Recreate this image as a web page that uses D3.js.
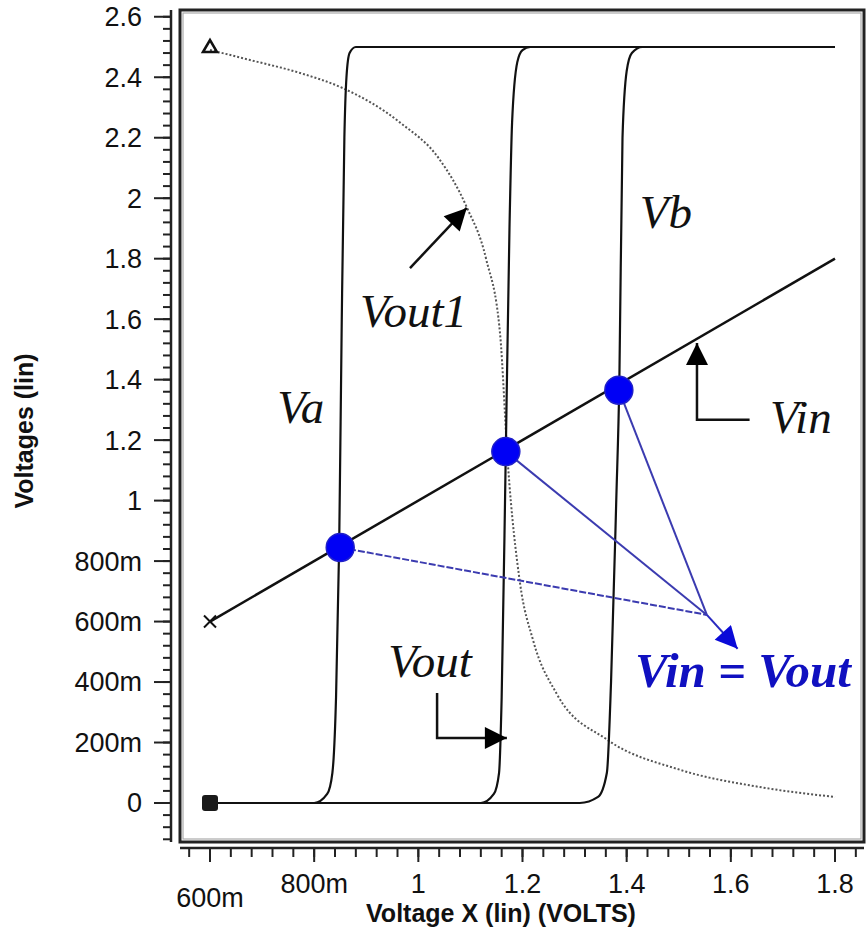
<!DOCTYPE html>
<html>
<head>
<meta charset="utf-8">
<script src="https://cdn.jsdelivr.net/npm/d3@7"></script>
<style>
  body { margin: 0; background: #fff; }
  .tick-label { font-family: "Liberation Sans", Arial, sans-serif; font-size: 27px; fill: #111; }
  .axis-title { font-family: "Liberation Sans", Arial, sans-serif; font-size: 25px; font-weight: bold; fill: #111; }
  .note { font-family: "Liberation Serif", "Times New Roman", serif; font-style: italic; font-size: 47px; fill: #111; }
  .note-blue { font-family: "Liberation Serif", "Times New Roman", serif; font-style: italic; font-weight: bold; font-size: 49px; fill: #1010c0; }
</style>
</head>
<body>
<div id="chart"></div>
<script>
// ---- data (volts) ----
var vinX = [0.6, 1.8];
var vinY = [0.6, 1.8];

var vaX = [0.6, 0.80, 0.825, 0.835, 0.842, 0.848, 0.853, 0.858, 0.862, 0.868, 0.88, 1.8];
var vaY = [0, 0, 0.03, 0.1, 0.35, 0.85, 1.6, 2.2, 2.4, 2.48, 2.5, 2.5];

var voutX = [0.6, 1.12, 1.145, 1.155, 1.16, 1.168, 1.175, 1.18, 1.19, 1.2, 1.215, 1.8];
var voutY = [0, 0, 0.03, 0.1, 0.35, 1.17, 1.9, 2.25, 2.45, 2.49, 2.5, 2.5];

var vbX = [0.6, 1.31, 1.345, 1.362, 1.37, 1.38, 1.386, 1.392, 1.4, 1.41, 1.43, 1.8];
var vbY = [0, 0, 0.02, 0.1, 0.4, 1.0, 1.4, 2.2, 2.42, 2.48, 2.5, 2.5];

var vout1X = [0.6, 0.677, 0.773, 0.855, 0.965, 1.04, 1.093, 1.13, 1.157, 1.172, 1.195, 1.22, 1.266, 1.362, 1.502, 1.655, 1.8];
var vout1Y = [2.49, 2.457, 2.414, 2.364, 2.25, 2.13, 1.97, 1.80, 1.55, 1.12, 0.73, 0.54, 0.36, 0.21, 0.11, 0.053, 0.02];

// crossing points Vin = Vout
var crossX = [0.85, 1.168, 1.385];
var crossY = [0.845, 1.162, 1.365];
var meetX = 1.554, meetY = 0.622;   // where the blue lines meet
var tipX = 1.613, tipY = 0.51;      // blue arrow tip

var xTicks = [0.6, 0.8, 1.0, 1.2, 1.4, 1.6, 1.8];
var xTickLabels = ["600m", "800m", "1", "1.2", "1.4", "1.6", "1.8"];
var yTicks = [0, 0.2, 0.4, 0.6, 0.8, 1.0, 1.2, 1.4, 1.6, 1.8, 2.0, 2.2, 2.4, 2.6];
var yTickLabels = ["0", "200m", "400m", "600m", "800m", "1", "1.2", "1.4", "1.6", "1.8", "2", "2.2", "2.4", "2.6"];

// annotation labels and arrows (data units)
var labels = [
    { text: "Va", x: 0.729, y: 1.257, cls: "note" },
    { text: "Vb", x: 1.425, y: 1.901, cls: "note" },
    { text: "Vout1", x: 0.888, y: 1.574, cls: "note" },
    { text: "Vin", x: 1.675, y: 1.224, cls: "note" },
    { text: "Vout", x: 0.942, y: 0.417, cls: "note" },
    { text: "Vin = Vout", x: 1.416, y: 0.384, cls: "note-blue" }
];
var arrows = [
    [[0.984, 1.769], [1.093, 1.968]],
    [[1.636, 1.267], [1.535, 1.267], [1.535, 1.521]],
    [[1.036, 0.364], [1.036, 0.215], [1.170, 0.215]]
];

// ---- layout ----
var width = 868, height = 932;
var frame = { left: 180, right: 864, top: 10, bottom: 842 };

var x = d3.scaleLinear().domain([0.6, 1.8]).range([210, 835]);
var y = d3.scaleLinear().domain([0, 2.5]).range([803, 47]);

var svg = d3.select("#chart").append("svg")
    .attr("width", width)
    .attr("height", height)
    .style("background", "#fff");

var defs = svg.append("defs");
defs.append("marker")
    .attr("id", "headBlack")
    .attr("viewBox", "0 0 10 10")
    .attr("refX", 10).attr("refY", 5)
    .attr("markerUnits", "userSpaceOnUse")
    .attr("markerWidth", 24).attr("markerHeight", 22)
    .attr("orient", "auto")
    .append("path").attr("d", "M0,0 L10,5 L0,10 Z").attr("fill", "#000");
defs.append("marker")
    .attr("id", "headBlue")
    .attr("viewBox", "0 0 10 10")
    .attr("refX", 10).attr("refY", 5)
    .attr("markerUnits", "userSpaceOnUse")
    .attr("markerWidth", 26).attr("markerHeight", 22)
    .attr("orient", "auto")
    .append("path").attr("d", "M0,0 L10,5 L0,10 Z").attr("fill", "#0a0ad8");

// frame (double line)
svg.append("rect")
    .attr("x", frame.left).attr("y", frame.top)
    .attr("width", frame.right - frame.left).attr("height", frame.bottom - frame.top)
    .attr("fill", "none").attr("stroke", "#222").attr("stroke-width", 3);
svg.append("rect")
    .attr("x", frame.left + 3).attr("y", frame.top + 3)
    .attr("width", frame.right - frame.left - 6).attr("height", frame.bottom - frame.top - 6)
    .attr("fill", "none").attr("stroke", "#aaa").attr("stroke-width", 1.2);

// y axis: line + ticks on the left of the frame
var yAxisX = 171;
var yMinor = d3.range(-0.12, 2.63, 0.04);
var yAx = svg.append("g");
yAx.append("line")
    .attr("x1", yAxisX).attr("x2", yAxisX)
    .attr("y1", frame.top).attr("y2", frame.bottom)
    .attr("stroke", "#222").attr("stroke-width", 2.5);
yAx.selectAll("line.minor").data(yMinor).enter().append("line")
    .attr("class", "minor")
    .attr("x1", yAxisX - 8).attr("x2", yAxisX)
    .attr("y1", d => y(d)).attr("y2", d => y(d))
    .attr("stroke", "#222").attr("stroke-width", 2);
yAx.selectAll("line.major").data(yTicks).enter().append("line")
    .attr("class", "major")
    .attr("x1", yAxisX - 17).attr("x2", yAxisX)
    .attr("y1", d => y(d)).attr("y2", d => y(d))
    .attr("stroke", "#222").attr("stroke-width", 2);
yAx.selectAll("text").data(yTicks).enter().append("text")
    .attr("class", "tick-label")
    .attr("x", 142)
    .attr("y", d => y(d))
    .attr("dy", "0.35em")
    .attr("text-anchor", "end")
    .text((d, i) => yTickLabels[i]);

// x axis: line + ticks below the frame
var xAxisY = 848;
var xMinor = d3.range(0.56, 1.85, 0.04);
var xAx = svg.append("g");
xAx.append("line")
    .attr("x1", frame.left).attr("x2", frame.right)
    .attr("y1", xAxisY).attr("y2", xAxisY)
    .attr("stroke", "#222").attr("stroke-width", 2.5);
xAx.selectAll("line.minor").data(xMinor).enter().append("line")
    .attr("class", "minor")
    .attr("x1", d => x(d)).attr("x2", d => x(d))
    .attr("y1", xAxisY).attr("y2", xAxisY + 9)
    .attr("stroke", "#222").attr("stroke-width", 2);
xAx.selectAll("line.major").data(xTicks).enter().append("line")
    .attr("class", "major")
    .attr("x1", d => x(d)).attr("x2", d => x(d))
    .attr("y1", xAxisY).attr("y2", xAxisY + 14)
    .attr("stroke", "#222").attr("stroke-width", 2);
xAx.selectAll("text").data(xTicks).enter().append("text")
    .attr("class", "tick-label")
    .attr("x", d => x(d))
    .attr("y", (d, i) => i == 0 ? 907 : 893)
    .attr("text-anchor", "middle")
    .text((d, i) => xTickLabels[i]);

svg.append("text")
    .attr("class", "axis-title")
    .attr("x", 501).attr("y", 922)
    .attr("text-anchor", "middle")
    .text("Voltage X (lin) (VOLTS)");
svg.append("text")
    .attr("class", "axis-title")
    .attr("transform", "translate(33,431) rotate(-90)")
    .attr("text-anchor", "middle")
    .text("Voltages (lin)");

// ---- curves ----
function pts(xs, ys) { return xs.map((v, i) => [v, ys[i]]); }
var line = d3.line().x(d => x(d[0])).y(d => y(d[1])).curve(d3.curveMonotoneX);
var straight = d3.line().x(d => x(d[0])).y(d => y(d[1]));

svg.append("path").datum(pts(vout1X, vout1Y))
    .attr("d", line).attr("fill", "none")
    .attr("stroke", "#555").attr("stroke-width", 2)
    .attr("stroke-dasharray", "2,2");

[pts(vaX, vaY), pts(voutX, voutY), pts(vbX, vbY)].forEach(function (s) {
    svg.append("path").datum(s)
        .attr("d", line).attr("fill", "none")
        .attr("stroke", "#111").attr("stroke-width", 2.2);
});

svg.append("path").datum(pts(vinX, vinY))
    .attr("d", straight).attr("fill", "none")
    .attr("stroke", "#111").attr("stroke-width", 2.5);

// start markers
var tx = x(vout1X[0]), ty = y(2.5);
svg.append("path")
    .attr("d", `M${tx - 7},${ty + 5} L${tx},${ty - 7} L${tx + 7},${ty + 5} Z`)
    .attr("fill", "none").attr("stroke", "#111").attr("stroke-width", 2.5);
var cx0 = x(vinX[0]), cy0 = y(vinY[0]);
svg.append("path")
    .attr("d", `M${cx0 - 6},${cy0 - 6} L${cx0 + 6},${cy0 + 6} M${cx0 - 6},${cy0 + 6} L${cx0 + 6},${cy0 - 6}`)
    .attr("stroke", "#111").attr("stroke-width", 2);
svg.append("rect")
    .attr("x", x(vaX[0]) - 8).attr("y", y(vaY[0]) - 8)
    .attr("width", 16).attr("height", 16).attr("rx", 3)
    .attr("fill", "#1a1a1a");

// ---- blue construction lines ----
crossX.forEach(function (cx, i) {
    svg.append("line")
        .attr("x1", x(cx)).attr("y1", y(crossY[i]))
        .attr("x2", x(meetX)).attr("y2", y(meetY))
        .attr("stroke", "#3b3bb0").attr("stroke-width", 2)
        .attr("stroke-dasharray", i == 0 ? "7,2" : null);
});
svg.append("line")
    .attr("x1", x(meetX)).attr("y1", y(meetY))
    .attr("x2", x(tipX)).attr("y2", y(tipY))
    .attr("stroke", "#2a2ac0").attr("stroke-width", 2)
    .attr("marker-end", "url(#headBlue)");

svg.selectAll("circle.cross").data(crossX).enter().append("circle")
    .attr("class", "cross")
    .attr("cx", d => x(d))
    .attr("cy", (d, i) => y(crossY[i]))
    .attr("r", 14)
    .attr("fill", "#0000f5")
    .attr("stroke", "#2020c8").attr("stroke-width", 1.5);

// ---- annotations ----
arrows.forEach(function (a) {
    svg.append("path").datum(a)
        .attr("d", straight).attr("fill", "none")
        .attr("stroke", "#111").attr("stroke-width", 2.5)
        .attr("marker-end", "url(#headBlack)");
});

svg.selectAll("text.lbl").data(labels).enter().append("text")
    .attr("class", d => "lbl " + d.cls)
    .attr("x", d => x(d.x))
    .attr("y", d => y(d.y))
    .text(d => d.text);
</script>
</body>
</html>
